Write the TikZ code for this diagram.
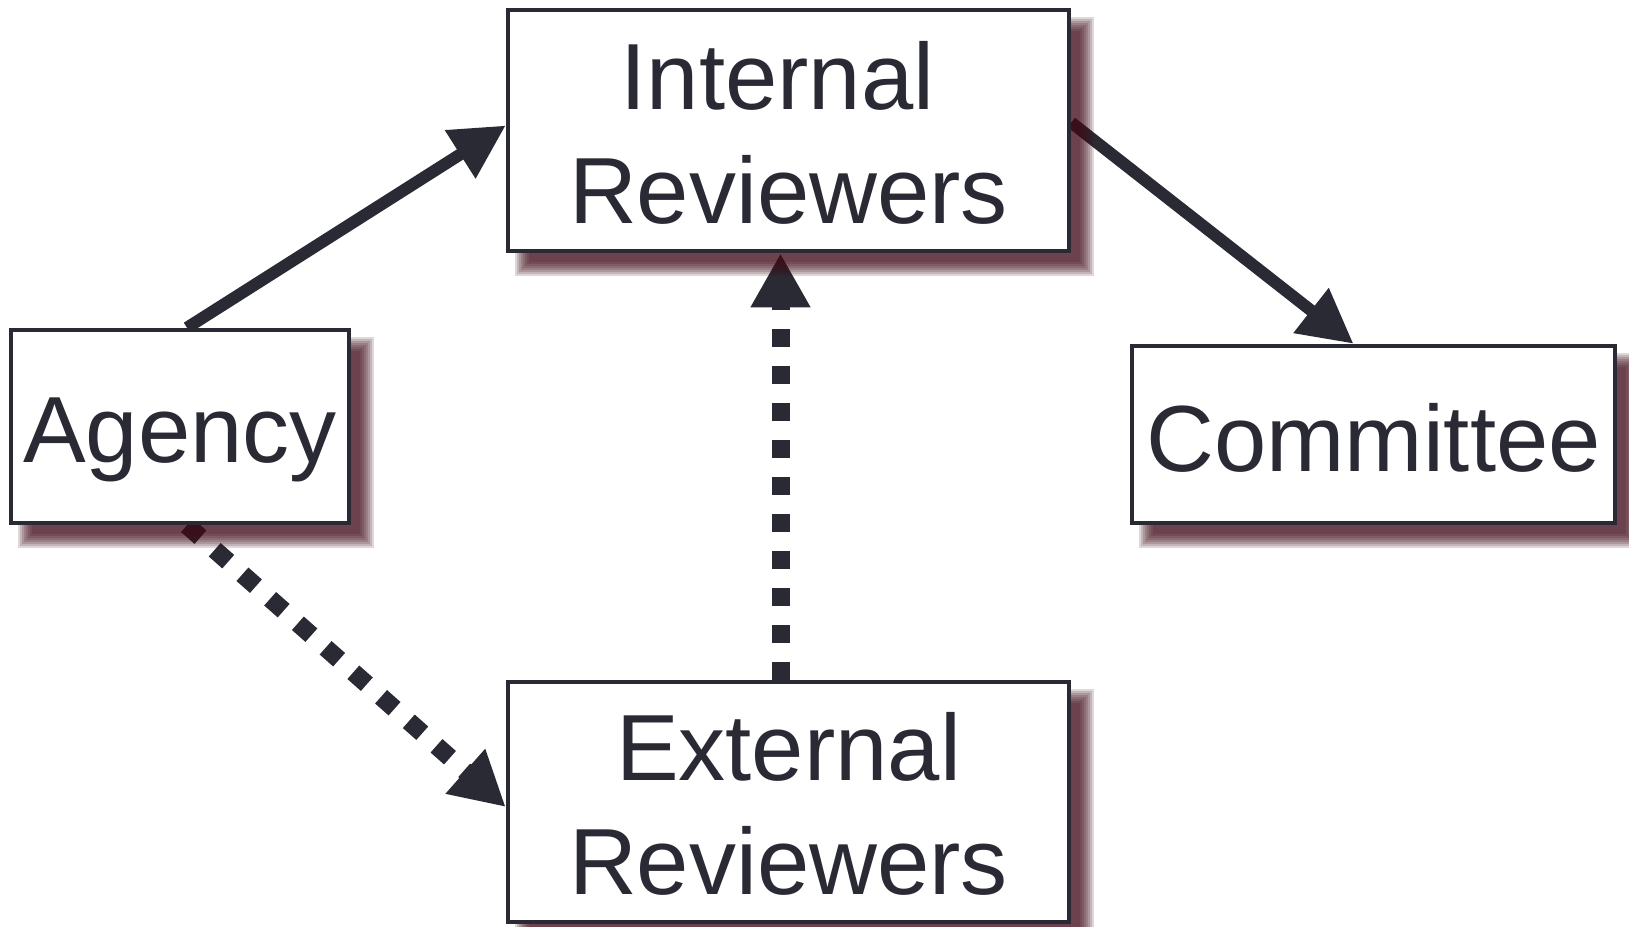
\documentclass[tikz,border=0pt]{standalone}
\usepackage{fontspec}
\setmainfont{Liberation Sans}
\usetikzlibrary{arrows.meta,calc}
\definecolor{ink}{RGB}{42,42,53}
\definecolor{shad}{RGB}{64,11,24}
\pgfdeclarelayer{background}
\pgfdeclarelayer{shadowlayer}
\pgfsetlayers{background,shadowlayer,main}
\newcommand{\lowered}[2]{\raisebox{-#1}[\height][\depth]{#2}}
\begin{document}
\begin{tikzpicture}[x=1pt,y=-1pt,
  box/.style={draw=ink, line width=4.5pt, fill=white, text=ink,
    font=\fontsize{94}{114}\selectfont, align=center, inner sep=0pt},
  shadowpiece/.style={fill=shad, opacity=0.17},
  solidarrow/.style={draw=ink, line width=12pt, -{Triangle[length=54pt,width=54pt]}},
  dotarrow/.style={draw=ink, line width=18pt, dash pattern=on 18pt off 19pt,
    -{Triangle[length=54pt,width=56pt]}}
]
\useasboundingbox (0,0) rectangle (1629,926);
\node[box, minimum width=561pt, minimum height=241pt] (internal) at (788.5,130.5) {\lowered{2pt}{Internal\hspace{22pt}}\\\lowered{2pt}{Reviewers}};
\node[box, minimum width=338pt, minimum height=193pt] (agency) at (180,426.5) {\lowered{13pt}{Agency}};
\node[box, minimum width=483pt, minimum height=177pt] (committee) at (1373.5,434.5) {\lowered{3pt}{Committee}};
\node[box, minimum width=561pt, minimum height=240pt] (external) at (788.5,802) {\lowered{2pt}{External}\\\lowered{2pt}{Reviewers}};
\begin{pgfonlayer}{shadowlayer}
\foreach \n in {internal,agency,committee,external}{
  \foreach \e in {-7,-5,-3,-1,1,3,5,7}{
    \fill[shadowpiece] ($(\n.north west)+(16-\e,16-\e)$) rectangle ($(\n.south east)+(16+\e,16+\e)$);
  }
}
\end{pgfonlayer}
\begin{pgfonlayer}{background}
\draw[solidarrow] ([xshift=7pt]agency.north) -- ([yshift=5pt]internal.west);
\draw[solidarrow] ([yshift=8pt]internal.east) -- ([xshift=-20pt]committee.north);
\draw[dotarrow] ([xshift=7pt]agency.south) -- ([yshift=-5pt]external.west);
\draw[dotarrow] ([xshift=-8pt]external.north) -- ([xshift=-8pt]internal.south);
\end{pgfonlayer}
\end{tikzpicture}
\end{document}
